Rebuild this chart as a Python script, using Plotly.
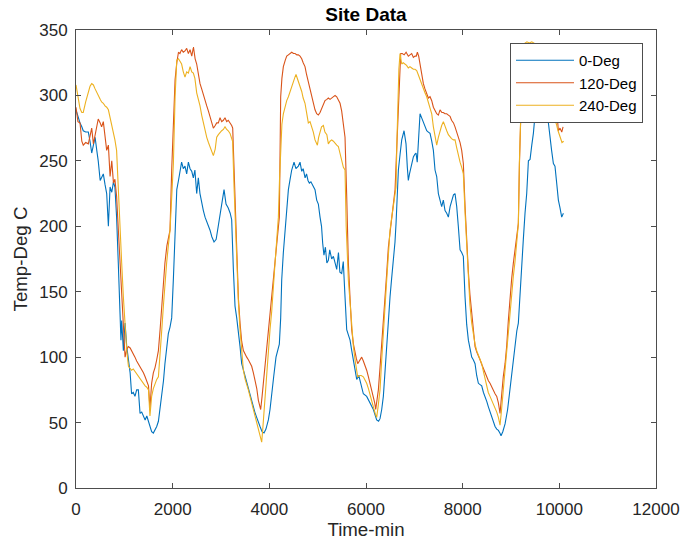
import plotly.graph_objects as go

# ---- data (time in minutes, temperature in deg C) ----
blue_pts = [
(0,289),(40,284),(83,279),(120,276),(150,273),(200,272),(255,272),(290,265),(325,256),(360,262),(395,268),
(430,258),(460,250),(500,235),(530,238),(565,240),(600,232),(635,225),(670,200),(705,230),(740,226),(775,234),
(805,230),(840,207),(875,172),(910,128),(930,113),(945,128),(960,116),(980,105),(1000,118),(1015,126),(1050,108),
(1085,98),(1120,88),(1150,72),(1185,73),(1220,70),(1255,75),(1290,75),(1325,57),(1360,58),(1395,55),(1430,52),
(1465,55),(1500,50),(1530,46),(1565,43),(1600,42),(1635,44),(1670,47),(1705,51),(1740,60),(1775,70),(1810,82),
(1840,95),(1880,108),(1910,118),(1945,123),(1980,130),(2015,160),(2050,197),(2085,228),(2120,235),(2150,243),
(2185,249),(2220,244),(2255,246),(2290,240),(2325,249),(2360,244),(2395,242),(2428,237),(2460,243),(2497,225),
(2531,237),(2565,225),(2600,217),(2635,212),(2670,207),(2705,204),(2738,200),(2773,197),(2810,192),(2856,188),
(2900,190),(2945,200),(2980,207),(3020,218),(3063,228),(3104,217),(3150,214),(3190,210),(3221,205),(3256,167),
(3290,139),(3325,130),(3359,121),(3394,108),(3428,95),(3463,90),(3497,85),(3550,78),(3601,72),(3640,66),(3670,62),
(3700,58),(3738,54),(3770,50),(3807,47),(3850,43),(3890,42),(3930,45),(3980,52),(4014,60),(4049,70),(4090,85),
(4138,100),(4170,105),(4207,110),(4235,130),(4256,159),(4290,180),(4325,197),(4360,214),(4394,228),(4430,236),
(4463,243),(4511,249),(4550,244),(4600,246),(4635,249),(4670,242),(4700,244),(4740,237),(4770,240),(4800,235),
(4828,233),(4860,234),(4900,231),(4945,228),(4980,220),(5014,217),(5049,207),(5080,200),(5104,187),(5130,178),
(5160,184),(5190,172),(5221,174),(5250,182),(5290,175),(5325,177),(5360,172),(5394,167),(5430,180),(5460,165),
(5497,164),(5530,173),(5566,146),(5601,121),(5635,117),(5670,113),(5705,105),(5739,98),(5770,90),(5808,83),
(5850,86),(5900,78),(5945,72),(6014,70),(6083,65),(6152,60),(6221,52),(6260,51),(6290,53),(6325,60),(6359,70),
(6390,88),(6428,108),(6460,126),(6497,146),(6530,160),(6566,172),(6600,188),(6621,202),(6645,222),(6670,243),
(6705,255),(6739,266),(6787,273),(6810,268),(6828,263),(6855,245),(6876,235),(6900,240),(6925,245),(6950,250),
(6980,253),(7010,255),(7035,256),(7060,249),(7090,270),(7118,286),(7150,283),(7187,279),(7220,276),(7256,273),
(7290,272),(7325,271),(7360,265),(7394,258),(7428,243),(7463,238),(7497,225),(7530,220),(7566,215),(7600,220),
(7635,212),(7670,210),(7704,207),(7740,215),(7773,220),(7810,224),(7842,225),(7877,215),(7910,200),(7946,182),
(7980,180),(8014,177),(8049,146),(8083,125),(8118,113),(8150,106),(8187,100),(8220,98),(8256,95),(8290,86),
(8325,80),(8360,79),(8394,78),(8430,73),(8463,70),(8500,66),(8532,62),(8565,58),(8601,54),(8635,50),(8670,47),
(8705,45),(8739,44),(8770,42),(8794,40),(8830,43),(8877,49),(8930,60),(8980,75),(9030,92),(9083,110),(9120,120),
(9152,126),(9185,150),(9221,172),(9255,190),(9290,210),(9325,225),(9360,250),(9394,251),(9430,262),(9463,271),
(9497,285),(9540,295),(9580,302),(9620,305),(9660,300),(9700,292),(9746,286),(9777,278),(9808,266),(9840,258),
(9877,248),(9910,246),(9940,235),(9980,220),(10014,214),(10049,207),(10084,210),
]

red_pts = [
(0,291),(40,280),(83,279),(120,265),(150,262),(200,264),(255,263),(290,268),(325,275),(360,263),(395,270),
(430,278),(460,282),(500,279),(530,276),(565,280),(600,266),(635,258),(670,262),(705,238),(740,250),(775,233),
(805,236),(840,223),(875,198),(910,172),(945,145),(980,121),(1000,110),(1015,100),(1050,106),(1085,108),
(1120,107),(1150,105),(1185,103),(1220,100),(1255,97),(1290,95),(1325,93),(1360,90),(1395,88),(1430,85),
(1465,82),(1500,78),(1530,61),(1565,80),(1600,88),(1635,92),(1670,98),(1705,105),(1740,121),(1775,140),
(1810,158),(1840,172),(1880,185),(1910,190),(1945,197),(1980,243),(2015,285),(2050,312),(2085,325),(2120,333),
(2150,332),(2185,335),(2220,333),(2255,334),(2290,336),(2325,332),(2360,335),(2395,330),(2430,337),(2465,328),
(2497,324),(2531,316),(2566,309),(2600,305),(2635,300),(2670,296),(2705,292),(2740,288),(2773,284),(2810,279),
(2842,275),(2880,277),(2911,279),(2945,279),(2980,283),(3014,280),(3049,281),(3083,283),(3118,280),(3150,281),
(3187,279),(3221,277),(3242,275),(3276,235),(3300,200),(3325,172),(3360,145),(3394,126),(3428,112),(3463,105),
(3497,102),(3532,100),(3566,98),(3600,96),(3635,93),(3670,88),(3704,82),(3740,76),(3773,67),(3800,62),(3821,60),
(3850,70),(3876,80),(3910,92),(3945,105),(3980,118),(4014,132),(4049,146),(4090,162),(4118,172),(4152,184),
(4180,195),(4207,207),(4220,250),(4235,299),(4260,313),(4290,322),(4330,327),(4360,330),(4394,331),(4430,332),
(4463,333),(4500,332),(4532,332),(4570,331),(4600,331),(4635,330),(4670,328),(4700,325),(4738,322),(4770,316),
(4800,311),(4842,304),(4880,298),(4910,293),(4945,289),(4980,286),(5014,285),(5049,287),(5080,290),(5118,294),
(5152,296),(5190,297),(5221,298),(5256,297),(5290,298),(5325,299),(5360,300),(5394,299),(5428,297),(5463,294),
(5497,288),(5532,279),(5566,268),(5601,223),(5635,172),(5670,145),(5704,121),(5740,110),(5773,103),(5800,99),
(5828,95),(5870,98),(5911,100),(5945,97),(5980,94),(6014,90),(6050,85),(6083,80),(6120,75),(6152,70),(6180,65),
(6201,60),(6230,68),(6256,75),(6290,92),(6325,108),(6359,127),(6394,146),(6430,165),(6463,184),(6500,196),
(6532,207),(6566,218),(6601,228),(6625,250),(6649,273),(6670,300),(6690,319),(6718,332),(6750,332),(6790,331),
(6830,333),(6876,330),(6910,331),(6945,332),(6980,329),(7014,330),(7040,330),(7063,333),(7090,330),(7118,324),
(7150,316),(7187,309),(7220,305),(7256,301),(7290,298),(7325,299),(7360,296),(7394,291),(7428,288),(7463,286),
(7497,285),(7532,289),(7570,287),(7600,287),(7635,286),(7670,286),(7704,285),(7739,284),(7770,281),(7810,279),
(7842,276),(7877,272),(7911,268),(7946,264),(7980,258),(8014,248),(8050,215),(8083,184),(8118,165),(8150,148),
(8187,133),(8220,120),(8256,108),(8290,104),(8325,100),(8359,98),(8400,94),(8430,91),(8463,88),(8500,85),
(8532,82),(8566,80),(8600,77),(8635,75),(8670,72),(8705,70),(8739,65),(8773,57),(8790,66),(8808,75),(8840,85),
(8877,95),(8910,108),(8945,128),(8980,146),(9014,160),(9049,172),(9083,182),(9118,192),(9152,202),(9175,248),
(9200,290),(9230,320),(9260,333),(9300,336),(9350,336),(9400,337),(9450,336),(9500,335),(9550,330),(9600,322),
(9650,315),(9700,305),(9750,298),(9800,292),(9840,290),(9877,286),(9910,285),(9953,286),(9980,273),(10014,275),
(10050,272),(10077,276),
]

yellow_pts = [
(0,308),(40,300),(83,290),(120,287),(150,287),(200,295),(255,303),(290,307),(325,309),(360,308),(395,305),
(430,302),(460,299),(500,297),(530,295),(565,294),(600,292),(635,291),(670,289),(705,283),(740,278),(770,273),
(805,266),(840,258),(860,240),(875,223),(910,197),(945,172),(980,146),(1015,121),(1050,105),(1085,93),(1120,91),
(1150,90),(1185,91),(1220,89),(1255,88),(1290,86),(1325,84),(1360,82),(1395,80),(1430,78),(1465,77),(1500,75),
(1530,55),(1565,70),(1600,76),(1635,80),(1670,83),(1705,85),(1740,100),(1775,121),(1810,140),(1840,158),
(1875,172),(1910,185),(1945,197),(1980,222),(2015,248),(2050,299),(2085,327),(2120,328),(2150,326),(2185,324),
(2220,318),(2255,314),(2290,318),(2325,317),(2360,322),(2395,318),(2428,317),(2460,313),(2497,302),(2531,298),
(2566,292),(2600,285),(2635,279),(2670,273),(2705,268),(2740,264),(2773,261),(2810,257),(2842,254),(2880,259),
(2911,268),(2945,270),(2980,272),(3014,273),(3049,274),(3083,276),(3118,274),(3150,273),(3187,271),(3221,268),
(3240,265),(3270,230),(3300,195),(3325,167),(3360,142),(3394,121),(3428,104),(3463,90),(3500,83),(3530,80),
(3566,75),(3600,70),(3635,65),(3670,60),(3700,55),(3738,49),(3770,44),(3807,39),(3842,35),(3870,48),(3911,70),
(3945,85),(3980,103),(4014,121),(4049,135),(4083,150),(4118,172),(4150,188),(4187,207),(4210,235),(4235,266),
(4260,278),(4290,286),(4330,292),(4360,296),(4394,299),(4430,303),(4463,308),(4497,312),(4530,314),(4552,316),
(4590,312),(4635,307),(4670,303),(4700,298),(4738,294),(4770,287),(4807,279),(4842,280),(4880,276),(4910,272),
(4945,266),(4994,262),(5020,268),(5049,273),(5080,276),(5118,277),(5150,272),(5190,270),(5221,263),(5256,265),
(5290,266),(5325,265),(5360,263),(5394,262),(5428,261),(5463,256),(5497,251),(5532,245),(5566,243),(5590,200),
(5635,159),(5670,140),(5704,121),(5740,108),(5773,98),(5800,90),(5828,85),(5870,86),(5900,86),(5945,85),
(5980,83),(6014,80),(6050,76),(6083,72),(6120,67),(6152,62),(6190,57),(6221,54),(6250,62),(6290,75),(6325,98),
(6359,121),(6394,140),(6428,159),(6463,178),(6497,197),(6530,206),(6566,215),(6600,224),(6621,230),(6640,265),
(6656,299),(6680,320),(6704,332),(6739,324),(6770,325),(6808,324),(6840,323),(6876,321),(6910,322),(6945,321),
(6980,320),(7014,320),(7049,319),(7080,316),(7118,312),(7150,308),(7187,304),(7220,302),(7256,299),(7290,295),
(7325,291),(7360,286),(7394,276),(7428,268),(7463,262),(7497,268),(7532,273),(7566,277),(7601,280),(7635,276),
(7670,273),(7704,270),(7739,268),(7770,267),(7810,266),(7842,266),(7877,260),(7911,253),(7946,249),(7980,245),
(8014,240),(8050,210),(8083,185),(8118,159),(8150,140),(8187,126),(8221,116),(8256,110),(8290,105),(8325,101),
(8359,98),(8394,95),(8430,89),(8463,83),(8497,77),(8530,73),(8566,70),(8601,67),(8635,64),(8670,62),(8705,58),
(8739,54),(8773,48),(8800,58),(8828,70),(8870,88),(8911,108),(8960,130),(9014,151),(9049,162),(9083,173),
(9118,188),(9152,202),(9173,248),(9201,286),(9230,320),(9260,335),(9290,340),(9330,341),(9380,340),(9430,341),
(9480,340),(9518,339),(9560,330),(9600,320),(9650,312),(9700,305),(9750,298),(9800,292),(9840,289),(9870,286),
(9910,282),(9940,278),(9973,273),(10010,268),(10055,264),(10090,265),
]

series_names = ["0-Deg", "120-Deg", "240-Deg"]
series_pts = [blue_pts, red_pts, yellow_pts]
series_colors = ["#0072BD", "#D95319", "#EDB120"]

x_ticks = [0, 2000, 4000, 6000, 8000, 10000, 12000]
y_ticks = [0, 50, 100, 150, 200, 250, 300, 350]

FONT = "Liberation Sans, Arial, sans-serif"
AX = "#262626"

fig = go.Figure()
for name, pts, col in zip(series_names, series_pts, series_colors):
    fig.add_trace(go.Scatter(
        x=[p[0] for p in pts], y=[p[1] for p in pts],
        mode="lines", name=name,
        line=dict(color=col, width=1.1),
    ))

axis_common = dict(
    showgrid=False, zeroline=False, showline=True, linecolor="#4d4d4d", linewidth=1,
    mirror="ticks", ticks="inside", ticklen=5, tickcolor="#4d4d4d", tickwidth=1,
    tickfont=dict(family=FONT, size=17, color=AX),
    automargin=False,
)

fig.update_layout(
    width=684, height=546,
    margin=dict(l=76, r=28, t=30, b=58),
    paper_bgcolor="white", plot_bgcolor="white",
    font=dict(family=FONT, color=AX),
    title=dict(text="<b>Site Data</b>", x=(76 + 290) / 684, xanchor="center",
               y=1 - 14 / 546, yanchor="middle", yref="container",
               font=dict(family=FONT, size=19, color="#000000")),
    xaxis=dict(range=[0, 12000], tickvals=x_ticks, ticktext=[str(v) for v in x_ticks],
               title=dict(text="Time-min", font=dict(family=FONT, size=18.7, color=AX), standoff=4),
               ticklabelstandoff=6,
               **axis_common),
    yaxis=dict(range=[0, 350], tickvals=y_ticks, ticktext=[str(v) for v in y_ticks],
               title=dict(text="Temp-Deg C", font=dict(family=FONT, size=18.7, color=AX), standoff=6),
               ticklabelstandoff=4,
               **axis_common),
    legend=dict(x=(643 - 76) / 580, y=(488 - 43) / 458, xanchor="right", yanchor="top",
                bgcolor="white", bordercolor="#4d4d4d", borderwidth=1,
                font=dict(family=FONT, size=15, color="#000000"),
                itemwidth=58, tracegroupgap=0),
    showlegend=True,
)

fig.write_html("out.html", config={"displayModeBar": False},
               post_script="document.body.style.margin='0';document.body.style.overflow='hidden';")
